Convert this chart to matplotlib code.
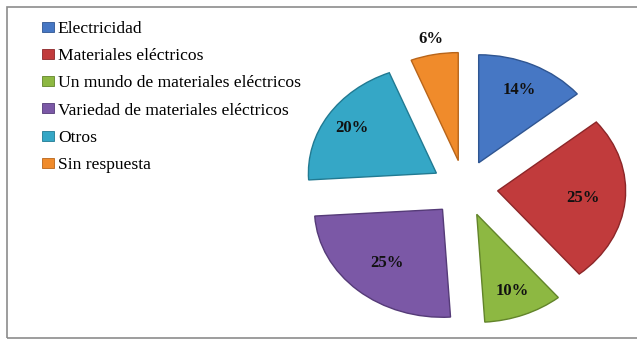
import numpy as np
import matplotlib
matplotlib.use("Agg")
import matplotlib.pyplot as plt
from matplotlib.patches import Patch, Rectangle

categories = [
    "Electricidad",
    "Materiales eléctricos",
    "Un mundo de materiales eléctricos",
    "Variedad de materiales eléctricos",
    "Otros",
    "Sin respuesta",
]
values = [14, 25, 10, 25, 20, 6]

colors = ["#4677c4", "#c13b3c", "#8db842", "#7b58a6", "#35a7c6", "#f08b2b"]
edges = ["#2f5591", "#8c2628", "#62842a", "#553b78", "#217a92", "#b8651a"]
label_dist = [0.74, 0.67, 0.76, 0.66, 0.78, 1.15]


def main() -> None:
    plt.rcParams["font.family"] = ["Liberation Serif", "DejaVu Serif"]
    fig = plt.figure(figsize=(6.37, 3.40), dpi=100)
    ax = fig.add_axes([0, 0, 1, 1])

    wedges, _ = ax.pie(
        values,
        colors=colors,
        explode=[0.26] * len(values),
        startangle=90,
        counterclock=False,
        radius=1.0,
        wedgeprops=dict(linewidth=1.0),
    )
    for w, ec in zip(wedges, edges):
        w.set_edgecolor(ec)

    for w, v, d in zip(wedges, values, label_dist):
        mid = np.deg2rad((w.theta1 + w.theta2) / 2)
        cx, cy = w.center
        ax.text(cx + d * np.cos(mid), cy + d * np.sin(mid), f"{v}%",
                ha="center", va="center", fontsize=12, fontweight="bold",
                color="#111111")

    # stretched pie: wider than tall, as in the reference
    ax.set_aspect("auto")
    ax.set_xlim(-464.5 / 128, (637 - 464.5) / 128)
    ax.set_ylim(-(340 - 188.2) / 108, 188.2 / 108)
    ax.axis("off")

    handles = [Patch(facecolor=c, edgecolor=e, linewidth=0.6) for c, e in zip(colors, edges)]
    fig.legend(handles, categories, loc="upper left",
               bbox_to_anchor=(33 / 637, 1 - 12 / 340), frameon=False,
               fontsize=12.6, handlelength=0.72, handleheight=0.5,
               handletextpad=0.2, labelspacing=0.645, borderpad=0.0)

    fig.patches.append(Rectangle((7 / 637, 2 / 340), 1 - 6 / 637, 1 - 9 / 340,
                                 transform=fig.transFigure, fill=False,
                                 edgecolor="#8c8c8c", linewidth=1.2))

    fig.savefig("out.png", dpi=100)


if __name__ == "__main__":
    main()
